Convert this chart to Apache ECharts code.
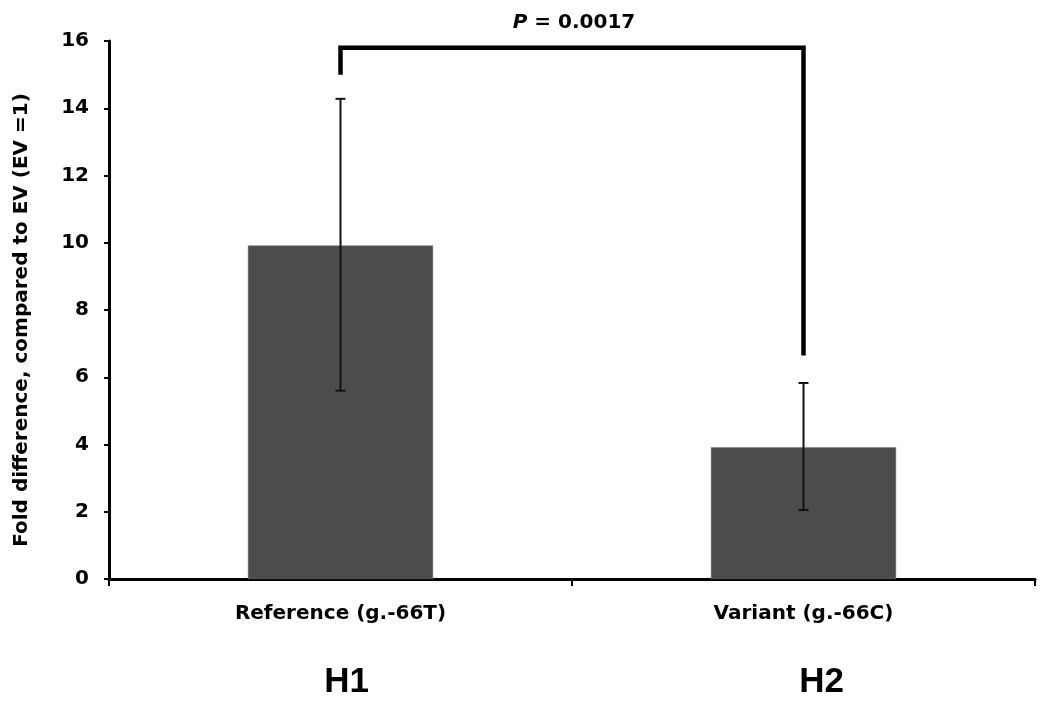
<!DOCTYPE html>
<html>
<head>
<meta charset="utf-8">
<script src="https://cdn.jsdelivr.net/npm/echarts@6/dist/echarts.min.js"></script>
<style>
  html, body { margin: 0; padding: 0; background: #fff; }
  #chart { width: 1050px; height: 717px; }
</style>
</head>
<body>
<div id="chart"></div>
<script>
const categories = ['Reference (g.-66T)', 'Variant (g.-66C)']
const groups = ['H1', 'H2']
const means = [9.92, 3.92]
const errLow = [5.6, 2.05]
const errHigh = [14.28, 5.83]
// bracket: top line level, left leg end, right leg end
const bracket = [15.8, 15.0, 6.65]
const pLabel = 'P'
const pValue = ' = 0.0017'

const heavy = '"DejaVu Sans", sans-serif'
const plain = '"Liberation Sans", Arial, sans-serif'

const chart = echarts.init(document.getElementById('chart'), null, { renderer: 'canvas' })

chart.setOption({
  animation: false,
  backgroundColor: '#fff',
  textStyle: { fontFamily: heavy },
  grid: { left: 109, right: 15, top: 41, bottom: 138, outerBoundsMode: 'none', containLabel: false },
  xAxis: {
    type: 'category',
    data: categories,
    axisLine: { lineStyle: { color: '#000', width: 3 } },
    axisTick: { show: true, length: 7, lineStyle: { color: '#000', width: 2 } },
    axisLabel: {
      margin: 23,
      formatter: function (v, i) {
        return '{a|' + v + '}\n{b' + i + '|' + groups[i] + '}'
      },
      rich: {
        a: { fontSize: 20, fontWeight: 'bold', color: '#000', fontFamily: heavy, lineHeight: 24 },
        b0: { fontSize: 35, fontWeight: 'bold', color: '#000', fontFamily: plain, lineHeight: 112, padding: [0, 0, 0, 12] },
        b1: { fontSize: 35, fontWeight: 'bold', color: '#000', fontFamily: plain, lineHeight: 112, padding: [0, 0, 0, 36] }
      }
    }
  },
  yAxis: {
    type: 'value',
    min: 0,
    max: 16,
    interval: 2,
    name: 'Fold difference, compared to EV (EV =1)',
    nameLocation: 'middle',
    nameGap: 77,
    nameRotate: 90,
    nameTextStyle: { fontSize: 20, fontWeight: 'bold', color: '#000', fontFamily: heavy, padding: [0, 20, 0, 0] },
    axisLine: { show: true, lineStyle: { color: '#000', width: 3 } },
    axisTick: { show: true, length: 5, lineStyle: { color: '#000', width: 2 } },
    splitLine: { show: false },
    axisLabel: { margin: 20, fontSize: 20, fontWeight: 'bold', color: '#000', fontFamily: heavy }
  },
  series: [
    {
      type: 'bar',
      data: means,
      barWidth: '40%',
      itemStyle: { color: '#4c4c4c', borderColor: '#777', borderWidth: 0.5 },
      z: 2
    },
    {
      type: 'custom',
      z: 3,
      data: categories.map((c, i) => [i, errLow[i], errHigh[i]]),
      renderItem: function (params, api) {
        const lo = api.coord([api.value(0), api.value(1)])
        const hi = api.coord([api.value(0), api.value(2)])
        const w = 5
        const style = { stroke: '#111', lineWidth: 2 }
        return {
          type: 'group',
          children: [
            { type: 'line', shape: { x1: hi[0], y1: hi[1], x2: lo[0], y2: lo[1] }, style: style },
            { type: 'line', shape: { x1: hi[0] - w, y1: hi[1], x2: hi[0] + w, y2: hi[1] }, style: style },
            { type: 'line', shape: { x1: lo[0] - w, y1: lo[1], x2: lo[0] + w, y2: lo[1] }, style: style }
          ]
        }
      }
    },
    {
      type: 'custom',
      z: 4,
      data: [[0, 1, bracket[0], bracket[1], bracket[2]]],
      renderItem: function (params, api) {
        const l = api.coord([api.value(0), api.value(3)])
        const lt = api.coord([api.value(0), api.value(2)])
        const rt = api.coord([api.value(1), api.value(2)])
        const r = api.coord([api.value(1), api.value(4)])
        return {
          type: 'group',
          children: [
            {
              type: 'polyline',
              shape: { points: [l, lt, rt, r] },
              style: { stroke: '#000', lineWidth: 4.5, fill: null, lineJoin: 'miter' }
            },
            {
              type: 'text',
              style: {
                x: (lt[0] + rt[0]) / 2 + 2,
                y: lt[1] - 25,
                text: '{i|' + pLabel + '}{n|' + pValue + '}',
                align: 'center',
                verticalAlign: 'middle',
                rich: {
                  i: { fontSize: 20, fontWeight: 'bold', fontStyle: 'italic', fill: '#000', fontFamily: heavy },
                  n: { fontSize: 20, fontWeight: 'bold', fill: '#000', fontFamily: heavy }
                }
              }
            }
          ]
        }
      }
    }
  ]
})
</script>
</body>
</html>
